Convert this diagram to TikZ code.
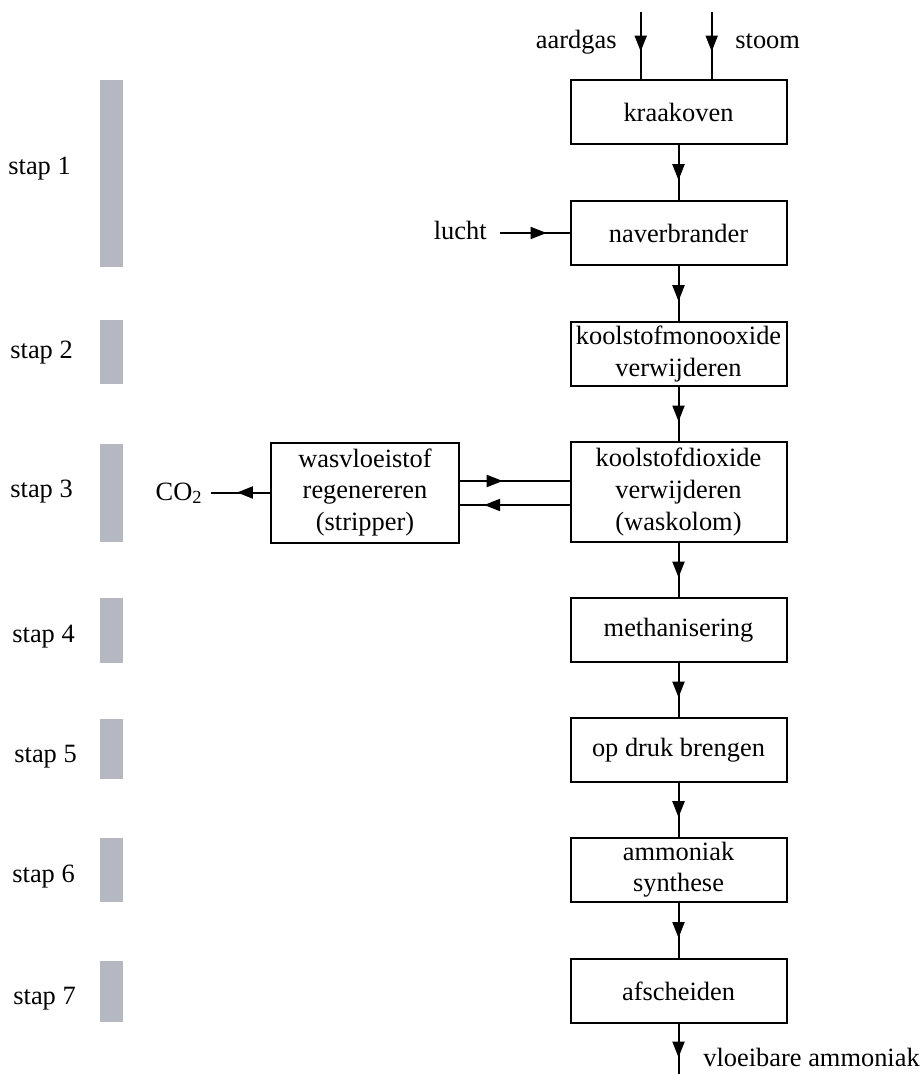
\documentclass[tikz,border=0pt]{standalone}
\usepackage{fontspec}
\setmainfont{Liberation Serif}
\usetikzlibrary{arrows.meta, decorations.markings, positioning}
\definecolor{stapgray}{RGB}{181,184,193}

\tikzset{
  proc/.style={draw, line width=1pt, minimum width=108pt, minimum height=32pt, inner sep=0pt, align=center},
  lbl/.style={inner sep=0pt},
  flow/.style={draw, line width=1pt, postaction={decorate},
    decoration={markings, mark=at position #1 with {\arrow{Triangle[length=8pt,width=6pt]}}}},
  flow/.default=0.64,
  bar/.style={fill=stapgray}
}

\begin{document}
\begin{tikzpicture}[x=0.5pt, y=-0.5pt, every node/.style={font=\fontsize{13.2}{15.8}\selectfont}]
\useasboundingbox (0,0) rectangle (923,1074);

% stappen
\foreach \top/\bot in {80/267, 320/384, 444/542, 598/663, 719/779, 838/902, 961/1022}
  \fill[bar] (100,\top) rectangle (123,\bot);
\foreach \n/\x/\y in {1/8/175, 2/10/358, 3/10/497, 4/12/642, 5/14/762, 6/12/882, 7/13/1004}
  \node[lbl, anchor=base west] (stap\n) at (\x,\y) {stap \n};

% proces
\node[proc] (kraak) at (678.5,112) {kraakoven};
\node[proc] (naver) at (678.5,233) {naverbrander};
\node[proc] (comono) at (678.5,354) {koolstofmonooxide\\verwijderen};
\node[proc, minimum height=50pt] (codi) at (678.5,492) {koolstofdioxide\\verwijderen\\(waskolom)};
\node[proc] (meth) at (678.5,630) {methanisering};
\node[proc] (druk) at (678.5,750) {op druk brengen};
\node[proc] (synth) at (678.5,869.5) {ammoniak\\synthese};
\node[proc] (afsch) at (678.5,991) {afscheiden};
\node[proc, minimum width=94pt, minimum height=50pt] (strip) at (365,492.5) {wasvloeistof\\regenereren\\(stripper)};

% in- en uitgaande stromen
\node[lbl, anchor=base east] (gaslbl) at (617,49) {aardgas};
\node[lbl, anchor=base west] (stoomlbl) at (735,49) {stoom};
\node[lbl, anchor=base east] (luchtlbl) at (487,240) {lucht};
\node[lbl, anchor=base east] (co2lbl) at (203,500) {CO\textsubscript{2}};
\node[lbl, anchor=base west] (nh3lbl) at (703,1066) {vloeibare ammoniak};
\coordinate (gasin) at (640.7,12);
\coordinate (stoomin) at (711.7,12);
\coordinate (luchtin) at (500,233);
\coordinate (co2out) at (211,492.5);
\coordinate (nh3out) at (678.5,1074);

\draw[flow=0.59] (gasin) -- (gasin |- kraak.north);
\draw[flow=0.59] (stoomin) -- (stoomin |- kraak.north);
\draw[flow=0.67] (luchtin) -- (naver.west);
\draw[flow] (kraak.south) -- (naver.north);
\draw[flow] (naver.south) -- (comono.north);
\draw[flow] (comono.south) -- (codi.north);
\draw[flow] (codi.south) -- (meth.north);
\draw[flow] (meth.south) -- (druk.north);
\draw[flow] (druk.south) -- (synth.north);
\draw[flow] (synth.south) -- (afsch.north);
\draw[flow=0.67] (afsch.south) -- (nh3out);
\draw[flow=0.39] (strip.east |- 0,481) -- (codi.west |- 0,481);
\draw[flow=0.78] (codi.west |- 0,505) -- (strip.east |- 0,505);
\draw[flow=0.56] (strip.west) -- (co2out);
\end{tikzpicture}
\end{document}
